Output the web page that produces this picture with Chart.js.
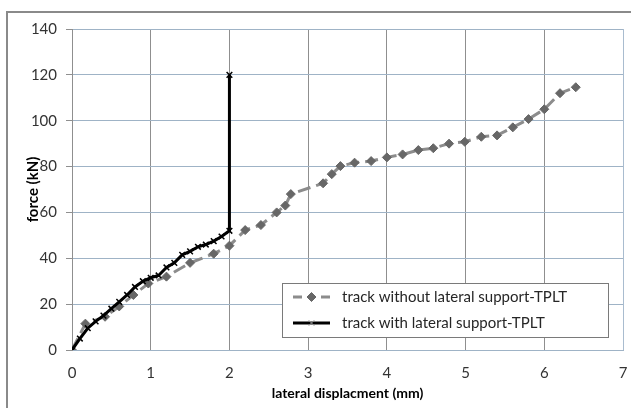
<!DOCTYPE html>
<html>
<head>
<meta charset="utf-8">
<script src="https://cdn.jsdelivr.net/npm/chart.js@4.4.0/dist/chart.umd.min.js"></script>
<style>
  html, body { margin: 0; padding: 0; background: #fff; }
  #wrap { position: relative; width: 631px; height: 408px; }
</style>
</head>
<body>
<div id="wrap"><canvas id="chart" width="631" height="408"></canvas></div>
<script>
// Values
const withoutX = [0, 0.17, 0.42, 0.6, 0.78, 0.97, 1.2, 1.5, 1.8, 2.0, 2.2, 2.4, 2.6, 2.71, 2.78, 3.19, 3.3, 3.41, 3.59, 3.8, 4.0, 4.2, 4.4, 4.59, 4.79, 4.99, 5.2, 5.4, 5.6, 5.8, 6.0, 6.2, 6.4];
const withoutY = [0, 11.5, 14.5, 19, 24, 29, 32, 38, 42, 45.5, 52.3, 54.5, 60, 63, 68, 72.7, 76.7, 80.2, 81.7, 82.4, 84, 85.3, 87.2, 88, 90, 90.8, 93, 93.6, 97.1, 100.7, 105, 112, 114.6];

const withX = [0, 0.1, 0.2, 0.3, 0.4, 0.5, 0.6, 0.7, 0.8, 0.9, 1.0, 1.1, 1.2, 1.3, 1.4, 1.5, 1.6, 1.7, 1.8, 1.9, 2.0, 2.0];
const withY = [0, 5, 9.5, 12.5, 15, 18, 21, 24, 27.5, 30, 31.5, 32.5, 36, 38, 41.5, 43, 45, 46, 47.5, 49.5, 52, 120];

const seriesLabels = ['track without lateral support-TPLT', 'track with lateral support-TPLT'];
const xTicks = [0, 1, 2, 3, 4, 5, 6, 7];
const yTicks = [0, 20, 40, 60, 80, 100, 120, 140];

const FONT = 'Lato, "Open Sans", sans-serif';

// outer frame like the original chart box
const framePlugin = {
  id: 'frame',
  beforeDraw(chart) {
    const ctx = chart.ctx;
    ctx.save();
    ctx.fillStyle = '#fff';
    ctx.fillRect(0, 0, chart.width, chart.height);
    ctx.strokeStyle = '#8a8a8a';
    ctx.lineWidth = 2;
    ctx.beginPath();
    ctx.moveTo(7, chart.height);
    ctx.lineTo(7, 12);
    ctx.lineTo(chart.width, 12);
    ctx.stroke();
    ctx.restore();
  },
  afterDatasetsDraw(chart) {
    // light blue right edge of the plot area
    const a = chart.chartArea, ctx = chart.ctx;
    ctx.save();
    ctx.strokeStyle = '#a9bccf';
    ctx.lineWidth = 1;
    ctx.beginPath();
    ctx.moveTo(a.right + 0.5, a.top);
    ctx.lineTo(a.right + 0.5, a.bottom);
    ctx.stroke();
    ctx.restore();
  }
};

// legend box drawn inside the plot area
const boxLegend = {
  id: 'boxLegend',
  afterDraw(chart) {
    const ctx = chart.ctx;
    const area = chart.chartArea;
    const right = area.right - 15, bottom = area.bottom - 13;
    const w = 326, h = 54;
    const left = right - w, top = bottom - h;
    ctx.save();
    ctx.fillStyle = '#fff';
    ctx.fillRect(left, top, w, h);
    ctx.strokeStyle = '#7a7a7a';
    ctx.lineWidth = 1;
    ctx.strokeRect(left + 0.5, top + 0.5, w, h);

    chart.data.datasets.forEach((ds, i) => {
      const y = top + 14 + i * 26;
      const x0 = left + 11, x1 = left + 48, xm = (x0 + x1) / 2;
      ctx.strokeStyle = ds.borderColor;
      ctx.lineWidth = ds.borderWidth;
      ctx.beginPath();
      if (ds.borderDash) {
        ctx.moveTo(x0, y); ctx.lineTo(x0 + 9, y);
        ctx.moveTo(x1 - 9, y); ctx.lineTo(x1, y);
      } else {
        ctx.moveTo(x0, y); ctx.lineTo(x1, y);
      }
      ctx.stroke();
      ctx.fillStyle = ds.pointBackgroundColor;
      ctx.strokeStyle = i === 0 ? ds.pointBorderColor : '#9a9a9a';
      ctx.lineWidth = 1;
      Chart.helpers.drawPoint(ctx, {
        pointStyle: ds.pointStyle,
        radius: ds.pointRadius,
        rotation: 0,
        borderWidth: 1
      }, xm, y);
      ctx.fillStyle = '#262626';
      ctx.font = '15px ' + FONT;
      ctx.textBaseline = 'middle';
      ctx.textAlign = 'left';
      ctx.fillText(ds.label, left + 60, y);
    });
    ctx.restore();
  }
};

new Chart(document.getElementById('chart').getContext('2d'), {
  type: 'line',
  data: {
    datasets: [{
      label: seriesLabels[0],
      data: withoutX.map((x, i) => ({ x: x, y: withoutY[i] })),
      borderColor: '#8c8c8c',
      borderWidth: 3,
      borderDash: [13, 6],
      pointStyle: 'rectRot',
      pointRadius: 4.5,
      pointBackgroundColor: '#676767',
      pointBorderColor: '#676767',
      pointBorderWidth: 1,
      tension: 0,
      order: 2
    }, {
      label: seriesLabels[1],
      data: withX.map((x, i) => ({ x: x, y: withY[i] })),
      borderColor: '#000',
      borderWidth: 3,
      pointStyle: 'crossRot',
      pointRadius: 4,
      pointBackgroundColor: '#000',
      pointBorderColor: '#000',
      pointBorderWidth: 1.5,
      tension: 0,
      order: 1
    }]
  },
  options: {
    responsive: false,
    animation: false,
    layout: { padding: { top: 29, right: 8, left: 0, bottom: 0 } },
    plugins: {
      legend: { display: false },
      tooltip: { enabled: false }
    },
    scales: {
      x: {
        type: 'linear',
        min: 0, max: 7,
        afterFit: s => { s.height = 58; },
        afterBuildTicks: s => { s.ticks = xTicks.map(v => ({ value: v })); },
        grid: { color: '#8f8f8f', lineWidth: 1, drawTicks: true, tickLength: 14, tickColor: 'rgba(0,0,0,0)' },
        border: { color: '#9fb3c6', width: 1 },
        ticks: { color: '#333', font: { family: FONT, size: 15 }, padding: 0 },
        title: {
          display: true,
          text: 'lateral displacment (mm)',
          color: '#000',
          font: { family: FONT, size: 14, weight: 'bold' },
          padding: { top: 0, bottom: 6 }
        }
      },
      y: {
        min: 0, max: 140,
        afterFit: s => { s.width = 72; },
        afterBuildTicks: s => { s.ticks = yTicks.map(v => ({ value: v })); },
        grid: { color: '#9fb3c6', lineWidth: 1, tickLength: 6, tickColor: '#8f8f8f' },
        border: { color: '#8f8f8f', width: 1 },
        ticks: { color: '#333', font: { family: FONT, size: 15 }, padding: 9 },
        title: {
          display: true,
          text: 'force (kN)',
          color: '#000',
          font: { family: FONT, size: 15, weight: 'bold' },
          padding: { top: 24, bottom: 0 }
        }
      }
    }
  },
  plugins: [framePlugin, boxLegend]
});
</script>
</body>
</html>
